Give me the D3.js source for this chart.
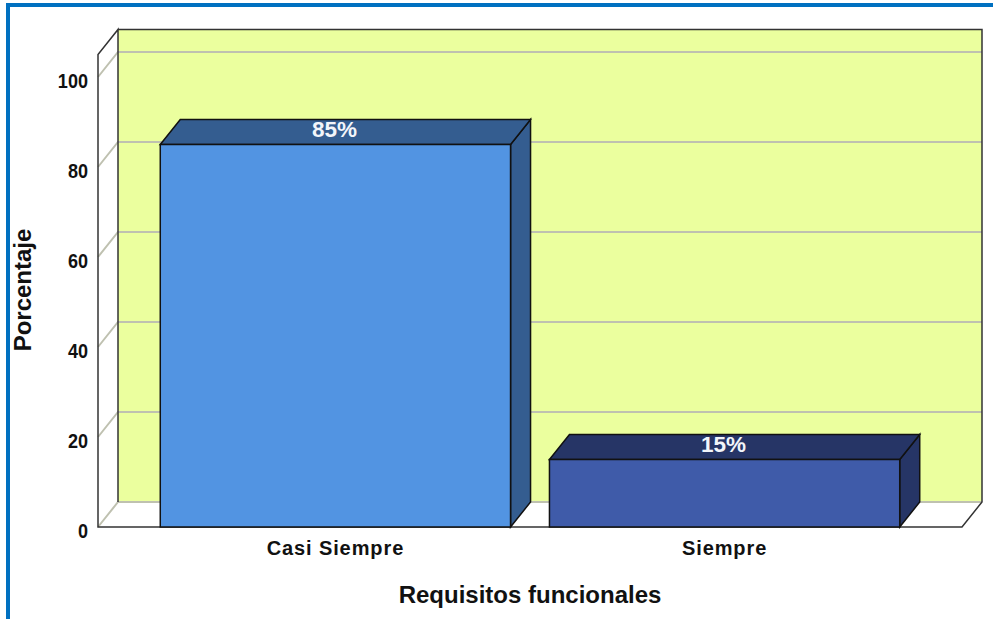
<!DOCTYPE html>
<html>
<head>
    <script src="https://d3js.org/d3.v7.min.js"></script>
    <style>
        html, body { margin: 0; padding: 0; background: #fff; overflow: hidden; }
        text { font-family: "Liberation Sans", Arial, sans-serif; font-weight: bold; fill: #111; }
        .tick-y { font-size: 21px; }
        .tick-x { font-size: 20px; letter-spacing: 0.9px; }
        .axis-title { font-size: 24px; }
        .bar-label { font-size: 22.5px; fill: #f2f5fa; }
    </style>
</head>
<body>
    <div id="chart"></div>
    <script>
        const categories = ["Casi Siempre", "Siempre"];
        const values = [85, 15];
        const barLabels = ["85%", "15%"];
        const yTicks = [0, 20, 40, 60, 80, 100];
        const frontColors = ["#5294e2", "#3f5ba9"];
        const darkColors = ["#345d90", "#263566"];

        const width = 993, height = 619;
        const depthX = 20, depthY = -25;

        const svg = d3.select("#chart").append("svg")
            .attr("width", width).attr("height", height);

        const y = d3.scaleLinear().domain([0, 105]).range([527, 54.5]);
        const x = d3.scaleBand().domain(categories).range([98, 962])
            .paddingInner(0.1).paddingOuter(0.16);

        const poly = pts => pts.map(p => p.join(",")).join(" ");
        const xL = x.range()[0], xR = x.range()[1], y0 = y(0), yTop = y(105);

        // frame border
        svg.append("rect").attr("x", 8).attr("y", 5).attr("width", 1000).attr("height", 700)
            .attr("fill", "none").attr("stroke", "#0070c0").attr("stroke-width", 4);

        // back wall
        svg.append("rect").attr("x", xL + depthX).attr("y", yTop + depthY)
            .attr("width", xR - xL).attr("height", y0 - yTop)
            .attr("fill", "#ebff9e");

        // grid lines across the wall and down the side wall
        yTicks.forEach(t => {
            svg.append("polyline")
                .attr("points", poly([[xL, y(t)], [xL + depthX, y(t) + depthY], [xR + depthX, y(t) + depthY]]))
                .attr("fill", "none").attr("stroke", "#bfc1b0").attr("stroke-width", 2);
        });

        // outline
        svg.append("path")
            .attr("d", `M${xL + depthX},${y0 + depthY}V${yTop + depthY}L${xL},${yTop}V${y0}H${xR}L${xR + depthX},${y0 + depthY}V${yTop + depthY}H${xL + depthX}`)
            .attr("fill", "none").attr("stroke", "#333").attr("stroke-width", 1.5);

        // bars
        const bars = svg.selectAll(".bar").data(categories).enter().append("g").attr("class", "bar");
        bars.append("polygon")
            .attr("points", (d, i) => {
                const r = x(d) + x.bandwidth(), t = y(values[i]);
                return poly([[r, y0], [r + depthX, y0 + depthY], [r + depthX, t + depthY], [r, t]]);
            })
            .attr("fill", (d, i) => darkColors[i]).attr("stroke", "#111").attr("stroke-width", 1.5);
        bars.append("polygon")
            .attr("points", (d, i) => {
                const l = x(d), r = l + x.bandwidth(), t = y(values[i]);
                return poly([[l, t], [l + depthX, t + depthY], [r + depthX, t + depthY], [r, t]]);
            })
            .attr("fill", (d, i) => darkColors[i]).attr("stroke", "#111").attr("stroke-width", 1.5);
        bars.append("rect")
            .attr("x", d => x(d)).attr("width", x.bandwidth())
            .attr("y", (d, i) => y(values[i])).attr("height", (d, i) => y0 - y(values[i]))
            .attr("fill", (d, i) => frontColors[i]).attr("stroke", "#111").attr("stroke-width", 1.5);
        bars.append("text").attr("class", "bar-label")
            .attr("x", d => x(d) + x.bandwidth() / 2 - 1)
            .attr("y", (d, i) => y(values[i]) + depthY + 17)
            .attr("text-anchor", "middle")
            .text((d, i) => barLabels[i]);

        // axis labels, the y ticks are a bit condensed in the original
        svg.selectAll(".tick-y").data(yTicks).enter().append("text").attr("class", "tick-y")
            .attr("transform", d => `translate(88,${y(d) + 11}) scale(0.86,1)`)
            .attr("text-anchor", "end").text(d => d);
        svg.selectAll(".tick-x").data(categories).enter().append("text").attr("class", "tick-x")
            .attr("x", d => x(d) + x.bandwidth() / 2).attr("y", 555).attr("text-anchor", "middle").text(d => d);

        svg.append("text").attr("class", "axis-title").attr("x", 530).attr("y", 603)
            .attr("text-anchor", "middle").text("Requisitos funcionales");
        svg.append("text").attr("class", "axis-title")
            .attr("transform", "translate(31,290) rotate(-90)")
            .attr("text-anchor", "middle").text("Porcentaje");
    </script>
</body>
</html>
